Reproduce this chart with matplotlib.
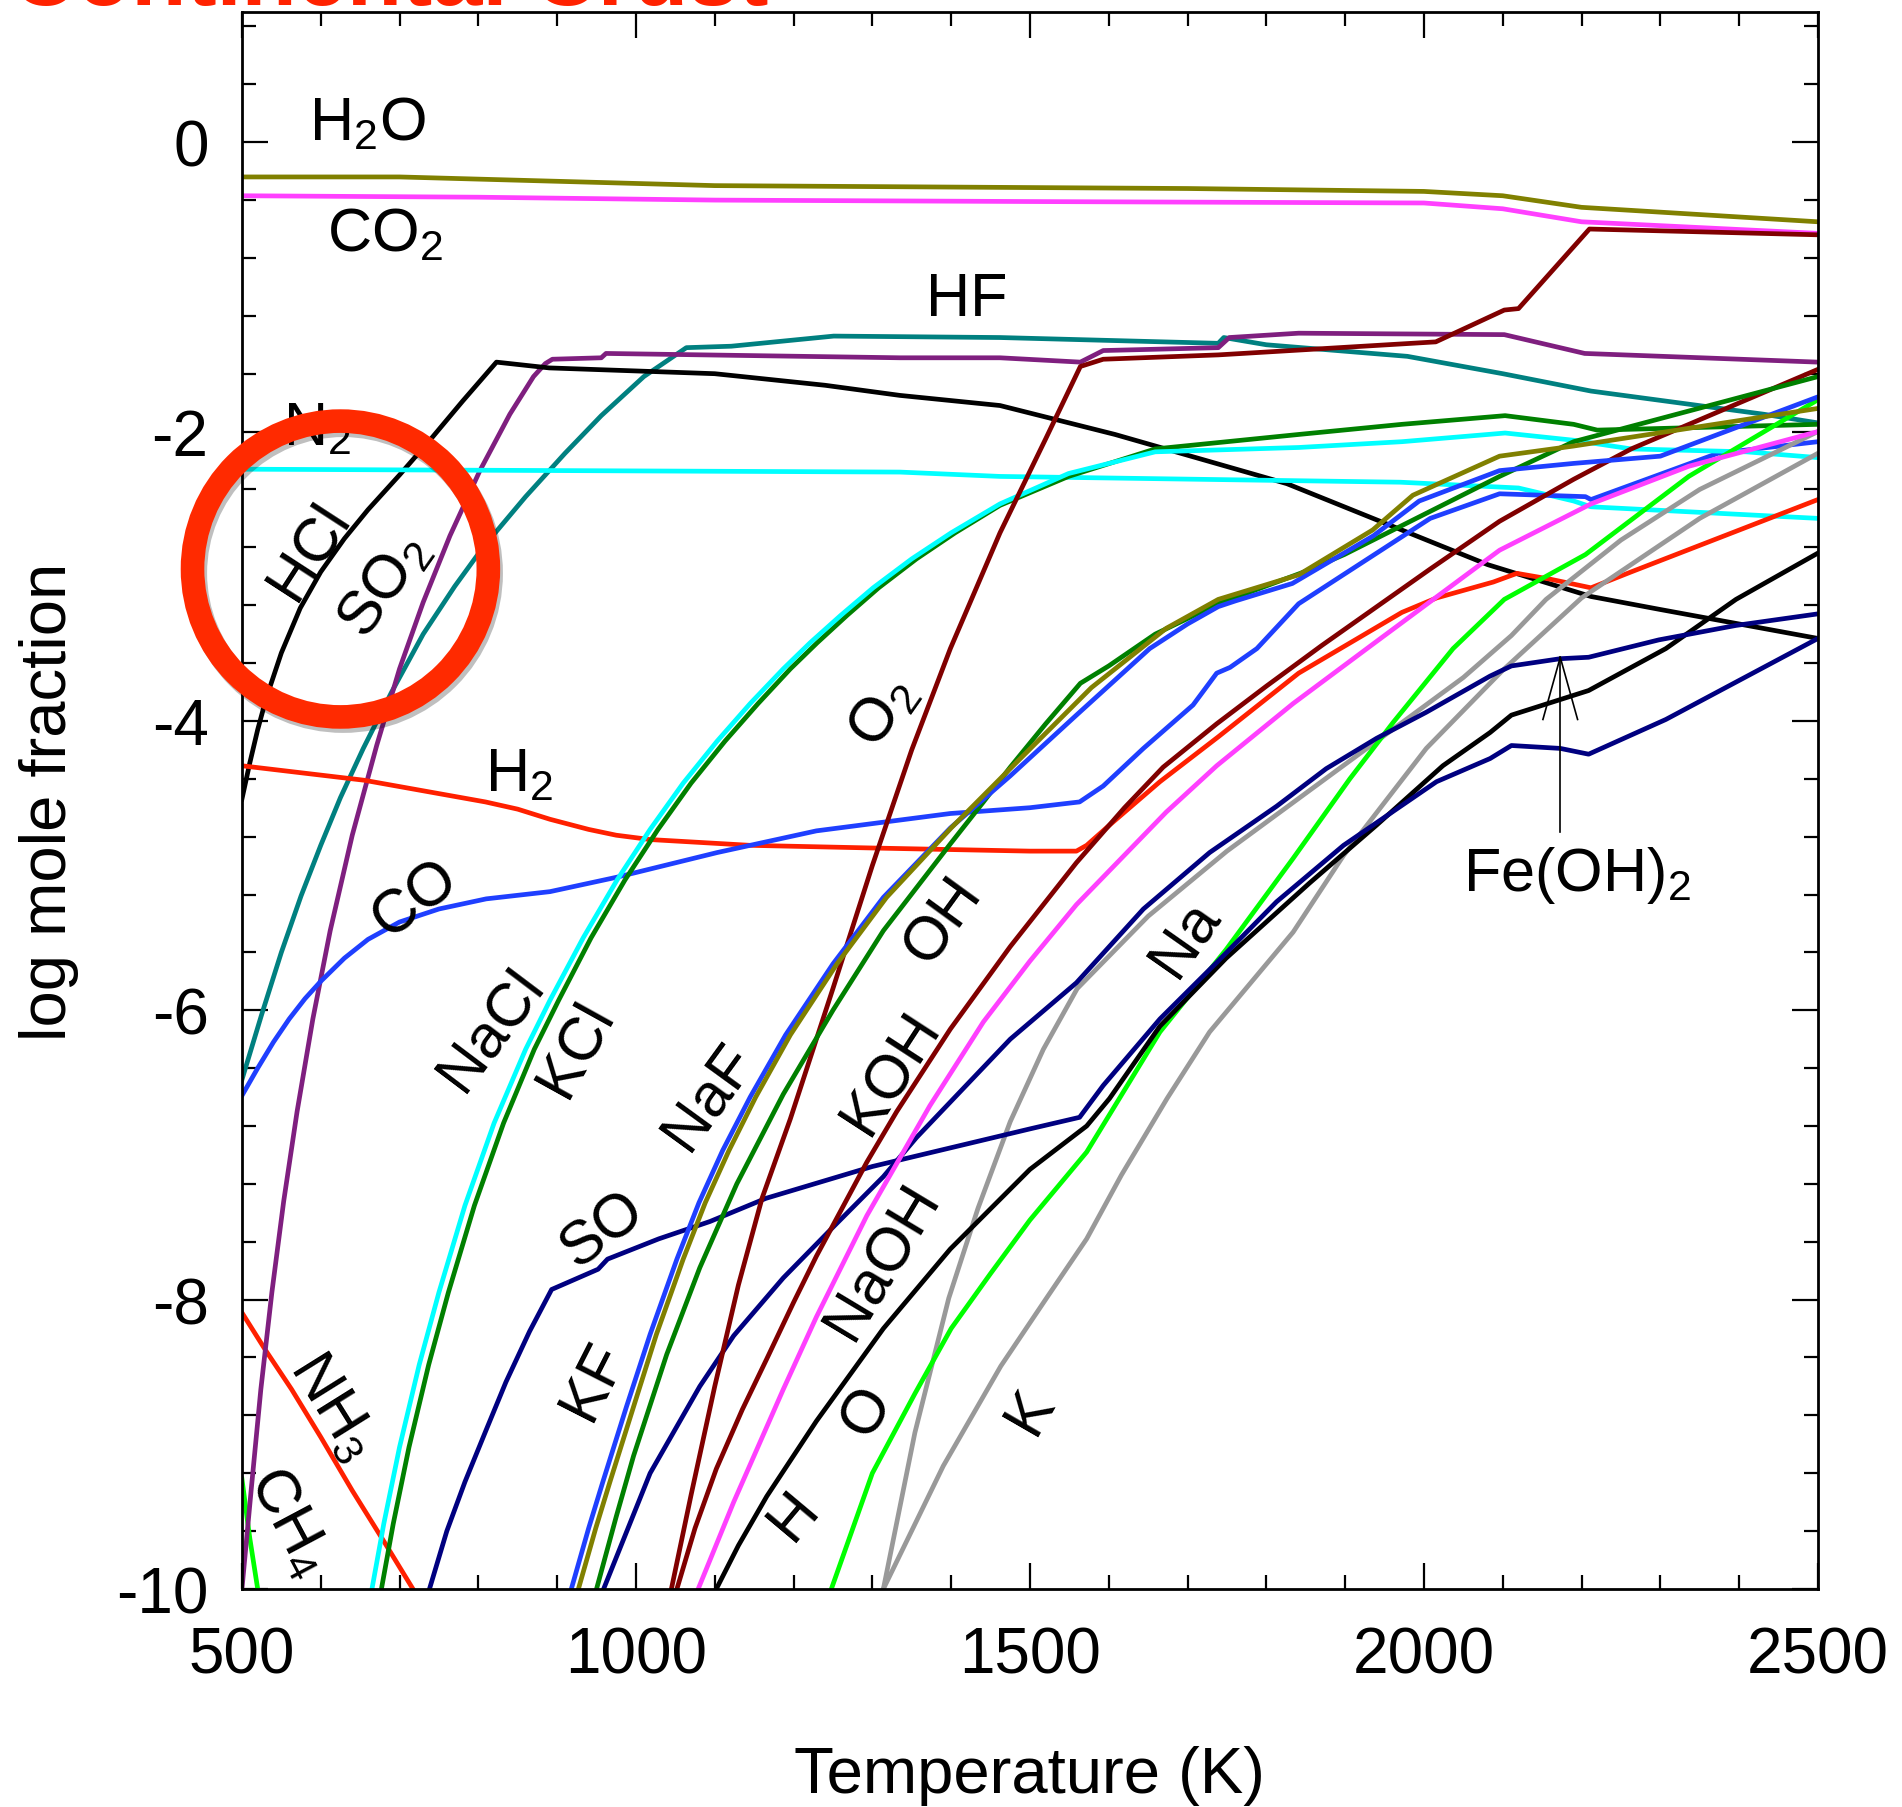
import matplotlib.pyplot as plt
import matplotlib.patheffects as pe
from matplotlib.ticker import MultipleLocator

plt.rcParams['font.family'] = ['Liberation Sans', 'DejaVu Sans']
plt.rcParams['mathtext.fontset'] = 'custom'
plt.rcParams['mathtext.rm'] = 'Liberation Sans'
plt.rcParams['mathtext.default'] = 'regular'
plt.rcParams['axes.unicode_minus'] = False

# log mole fraction vs temperature (K) for each gas species
h2o_t = [500, 700, 900, 1100, 1400, 1700, 2000, 2100, 2200, 2500]
h2o_x = [-0.24, -0.24, -0.27, -0.30, -0.31, -0.32, -0.34, -0.37, -0.45, -0.55]

co2_t = [500, 800, 1100, 1500, 2000, 2100, 2200, 2500]
co2_x = [-0.37, -0.38, -0.40, -0.41, -0.42, -0.46, -0.55, -0.63]

hf_t = [500, 525, 550, 575, 600, 625, 654, 690, 730, 770, 806, 860, 910, 956, 1010, 1064,
        1121, 1251, 1462, 1739, 1746, 1800, 1979, 2100, 2212, 2431, 2500]
hf_x = [-6.48, -6.03, -5.60, -5.21, -4.86, -4.53, -4.19, -3.80, -3.40, -3.07, -2.80, -2.45,
        -2.15, -1.89, -1.62, -1.42, -1.41, -1.34, -1.35, -1.39, -1.35, -1.40, -1.48, -1.60,
        -1.72, -1.88, -1.94]

so2_t = [500, 512, 524, 538, 553, 570, 590, 612, 640, 671, 700, 730, 764, 802, 840, 870,
         885, 894, 956, 962, 1335, 1462, 1564, 1593, 1739, 1753, 1841, 2102, 2204, 2500]
so2_x = [-10.0, -9.30, -8.62, -7.95, -7.32, -6.70, -6.06, -5.45, -4.79, -4.17, -3.64, -3.18,
         -2.72, -2.27, -1.88, -1.62, -1.53, -1.50, -1.49, -1.46, -1.49, -1.49, -1.52, -1.44,
         -1.42, -1.35, -1.32, -1.33, -1.46, -1.52]

hcl_t = [500, 510, 520, 531, 550, 574, 600, 630, 660, 700, 740, 780, 823, 890, 1100, 1240,
         1335, 1462, 1608, 1826, 2081, 2212, 2300, 2500]
hcl_x = [-4.54, -4.29, -4.06, -3.84, -3.53, -3.22, -2.97, -2.74, -2.54, -2.30, -2.05, -1.79,
         -1.52, -1.56, -1.60, -1.68, -1.75, -1.82, -2.02, -2.36, -2.92, -3.14, -3.23, -3.43]

n2_t = [500, 1335, 1462, 1970, 2120, 2190, 2212, 2500]
n2_x = [-2.26, -2.28, -2.31, -2.35, -2.39, -2.48, -2.52, -2.60]

h2_t = [500, 655, 809, 850, 891, 940, 975, 1018, 1145, 1314, 1500, 1559, 1572, 1601, 1665,
        1739, 1841, 1972, 2016, 2088, 2118, 2160, 2212, 2263, 2500]
h2_x = [-4.31, -4.41, -4.56, -4.61, -4.68, -4.75, -4.79, -4.82, -4.86, -4.88, -4.90, -4.90,
        -4.86, -4.72, -4.42, -4.11, -3.67, -3.25, -3.15, -3.04, -2.98, -3.02, -3.08, -2.97,
        -2.47]

co_t = [500, 520, 540, 560, 580, 600, 630, 660, 700, 750, 810, 891, 976, 1103, 1229, 1399,
        1500, 1563, 1593, 1644, 1707, 1737, 1754, 1788, 1841, 2008, 2096, 2205, 2212, 2373,
        2500]
co_x = [-6.59, -6.40, -6.22, -6.06, -5.92, -5.80, -5.64, -5.51, -5.39, -5.30, -5.23, -5.18,
        -5.08, -4.91, -4.76, -4.64, -4.60, -4.56, -4.45, -4.19, -3.89, -3.67, -3.63, -3.50,
        -3.19, -2.60, -2.43, -2.45, -2.47, -2.15, -2.07]

kcl_t = [665, 680, 700, 725, 750, 783, 820, 860, 891, 933, 976, 1018, 1060, 1103, 1145, 1187,
         1221, 1260, 1301, 1350, 1400, 1462, 1549, 1659, 1841, 1972, 2103, 2190, 2263, 2409,
         2500]
kcl_x = [-10.0, -9.55, -9.02, -8.45, -7.95, -7.35, -6.78, -6.27, -5.93, -5.50, -5.10, -4.75,
         -4.43, -4.14, -3.88, -3.64, -3.46, -3.27, -3.08, -2.88, -2.70, -2.50, -2.29, -2.14,
         -2.11, -2.07, -2.01, -2.06, -2.12, -2.14, -2.18]

nacl_t = [677, 692, 712, 737, 762, 795, 832, 871, 902, 943, 986, 1028, 1070, 1113, 1155, 1196,
          1230, 1268, 1308, 1356, 1405, 1462, 1549, 1659, 1841, 1972, 2103, 2190, 2220, 2500]
nacl_x = [-10.0, -9.55, -9.02, -8.45, -7.95, -7.35, -6.78, -6.27, -5.93, -5.50, -5.10, -4.75,
          -4.43, -4.14, -3.88, -3.64, -3.46, -3.27, -3.08, -2.88, -2.70, -2.51, -2.31, -2.12,
          -2.02, -1.95, -1.89, -1.95, -1.99, -1.95]

naf_t = [918, 940, 958, 988, 1018, 1052, 1080, 1110, 1145, 1190, 1250, 1314, 1399, 1475, 1559,
         1652, 1700, 1739, 1761, 1833, 1936, 1994, 2096, 2190, 2300, 2373, 2500]
naf_x = [-10.0, -9.58, -9.26, -8.74, -8.24, -7.72, -7.33, -6.97, -6.60, -6.17, -5.68, -5.22,
         -4.74, -4.38, -3.96, -3.50, -3.33, -3.21, -3.17, -3.05, -2.72, -2.48, -2.27, -2.22,
         -2.17, -2.02, -1.76]

kf_t = [927, 949, 967, 997, 1026, 1060, 1088, 1118, 1152, 1196, 1255, 1318, 1400, 1475, 1578,
        1673, 1739, 1841, 1935, 1986, 2096, 2190, 2500]
kf_x = [-10.0, -9.58, -9.26, -8.74, -8.24, -7.72, -7.33, -6.97, -6.60, -6.17, -5.68, -5.22,
        -4.74, -4.33, -3.77, -3.36, -3.16, -2.99, -2.68, -2.44, -2.17, -2.10, -1.84]

oh_t = [950, 975, 997, 1039, 1081, 1128, 1187, 1250, 1314, 1399, 1441, 1475, 1520, 1564,
        1600, 1659, 1739, 1848, 1899, 1972, 2096, 2190, 2500]
oh_x = [-10.0, -9.50, -9.08, -8.38, -7.78, -7.20, -6.58, -6.00, -5.45, -4.85, -4.56, -4.32,
        -4.02, -3.74, -3.62, -3.40, -3.19, -2.97, -2.85, -2.65, -2.31, -2.07, -1.62]

o2_t = [1045, 1070, 1100, 1130, 1160, 1196, 1250, 1300, 1350, 1399, 1462, 1520, 1564, 1593,
        1739, 2015, 2102, 2120, 2210, 2500]
o2_x = [-10.0, -9.35, -8.60, -7.90, -7.30, -6.75, -5.85, -5.00, -4.20, -3.50, -2.70, -2.05,
        -1.55, -1.50, -1.47, -1.38, -1.16, -1.15, -0.60, -0.64]

koh_t = [1052, 1075, 1102, 1135, 1166, 1200, 1229, 1293, 1331, 1399, 1475, 1559, 1620, 1669,
         1737, 1800, 1870, 2008, 2096, 2190, 2263, 2500]
koh_x = [-10.0, -9.58, -9.17, -8.76, -8.41, -8.02, -7.70, -7.05, -6.70, -6.13, -5.56, -4.98,
         -4.60, -4.32, -4.02, -3.76, -3.48, -2.95, -2.62, -2.33, -2.12, -1.57]

naoh_t = [1079, 1124, 1187, 1229, 1293, 1373, 1441, 1500, 1559, 1673, 1737, 1834, 1940, 2096,
          2212, 2336, 2500]
naoh_x = [-10.0, -9.40, -8.62, -8.12, -7.42, -6.66, -6.08, -5.66, -5.27, -4.63, -4.31, -3.88,
          -3.45, -2.82, -2.50, -2.24, -2.00]

h_t = [1102, 1130, 1166, 1229, 1314, 1399, 1500, 1572, 1601, 1665, 1749, 1855, 1940, 2024,
       2084, 2111, 2209, 2307, 2396, 2500]
h_x = [-10.0, -9.70, -9.36, -8.84, -8.20, -7.65, -7.10, -6.80, -6.61, -6.11, -5.64, -5.12,
       -4.72, -4.31, -4.08, -3.96, -3.79, -3.50, -3.16, -2.84]

so_t = [738, 760, 783, 810, 835, 865, 893, 952, 964, 1029, 1094, 1165, 1300, 1400, 1500,
        1563, 1593, 1665, 1737, 1813, 1898, 2016, 2084, 2111, 2173, 2209, 2307, 2500]
so_x = [-10.0, -9.60, -9.26, -8.90, -8.57, -8.22, -7.93, -7.79, -7.72, -7.58, -7.46, -7.30,
        -7.08, -6.95, -6.82, -6.74, -6.52, -6.06, -5.67, -5.25, -4.86, -4.42, -4.26, -4.17,
        -4.19, -4.23, -3.99, -3.43]

feoh2_t = [959, 1018, 1081, 1124, 1187, 1250, 1314, 1356, 1475, 1559, 1644, 1728, 1813,
           1876, 1940, 2003, 2084, 2111, 2173, 2209, 2298, 2396, 2500]
feoh2_x = [-10.0, -9.20, -8.60, -8.25, -7.85, -7.50, -7.15, -6.88, -6.20, -5.81, -5.30,
           -4.91, -4.59, -4.33, -4.12, -3.94, -3.69, -3.62, -3.57, -3.56, -3.44, -3.34, -3.26]

na_t = [1248, 1300, 1354, 1400, 1450, 1500, 1572, 1609, 1665, 1749, 1834, 1906, 1961, 2037,
        2102, 2205, 2336, 2500]
na_x = [-10.0, -9.20, -8.65, -8.20, -7.82, -7.45, -6.98, -6.65, -6.15, -5.58, -4.95, -4.40,
        -4.01, -3.50, -3.16, -2.85, -2.31, -1.78]

o_t = [1314, 1354, 1397, 1434, 1475, 1517, 1560, 1650, 1750, 1850, 1950, 2050, 2111, 2155,
       2250, 2350, 2500]
o_x = [-10.0, -8.92, -7.99, -7.37, -6.77, -6.27, -5.85, -5.35, -4.90, -4.50, -4.10, -3.70,
       -3.41, -3.16, -2.75, -2.40, -2.00]

k_t = [1314, 1390, 1463, 1521, 1572, 1616, 1674, 1728, 1834, 1898, 2003, 2100, 2200, 2350,
       2500]
k_x = [-10.0, -9.15, -8.46, -7.99, -7.58, -7.14, -6.61, -6.15, -5.46, -4.93, -4.19, -3.65,
       -3.15, -2.60, -2.15]

nh3_t = [500, 530, 563, 600, 640, 680, 717]
nh3_x = [-8.09, -8.35, -8.62, -8.95, -9.32, -9.67, -10.0]

ch4_t = [500, 510, 520]
ch4_x = [-9.24, -9.65, -10.0]

# arrow pointing at the Fe(OH)2 curve
feoh2_arrow_t = 2173
feoh2_arrow_tip = -3.56

OLIVE = '#808000'
MAGENTA = '#ff40ff'
TEAL = '#008080'
PURPLE = '#7f1f7f'
CYAN = '#00ffff'
RED = '#ff2000'
BLUE = '#1f3fff'
GREEN = '#008000'
BROWN = '#800000'
NAVY = '#000080'
LIME = '#00ff00'
GRAY = '#999999'

curves = [
    (h2o_t, h2o_x, OLIVE), (co2_t, co2_x, MAGENTA),
    (nh3_t, nh3_x, RED), (ch4_t, ch4_x, LIME),
    (hf_t, hf_x, TEAL), (so2_t, so2_x, PURPLE), (hcl_t, hcl_x, 'black'),
    (n2_t, n2_x, CYAN), (h2_t, h2_x, RED), (co_t, co_x, BLUE),
    (nacl_t, nacl_x, GREEN), (kcl_t, kcl_x, CYAN),
    (k_t, k_x, GRAY), (o_t, o_x, GRAY), (na_t, na_x, LIME),
    (h_t, h_x, 'black'), (so_t, so_x, NAVY), (feoh2_t, feoh2_x, NAVY),
    (naoh_t, naoh_x, MAGENTA), (koh_t, koh_x, BROWN), (o2_t, o2_x, BROWN),
    (oh_t, oh_x, GREEN), (naf_t, naf_x, BLUE), (kf_t, kf_x, OLIVE),
]

fig = plt.figure(figsize=(19.02, 18.08), dpi=100)
ax = fig.add_axes([0.1272, 0.1206, 0.8286, 0.8722])

for t, x, c in curves:
    ax.plot(t, x, color=c, lw=3.4)

ax.set_xlim(500, 2500)
ax.set_ylim(-10, 0.9)
ax.xaxis.set_major_locator(MultipleLocator(500))
ax.xaxis.set_minor_locator(MultipleLocator(100))
ax.yaxis.set_major_locator(MultipleLocator(2))
ax.yaxis.set_minor_locator(MultipleLocator(0.4))
ax.tick_params(which='both', direction='in', top=True, right=True, width=1.6)
ax.tick_params(which='major', length=19)
ax.tick_params(which='minor', length=10)
ax.tick_params(axis='x', labelsize=46, pad=26)
ax.tick_params(axis='y', labelsize=46, pad=24)
for s in ax.spines.values():
    s.set_linewidth(2.0)

ax.set_xlabel('Temperature (K)', fontsize=47, labelpad=43)
ax.set_ylabel('log mole fraction', fontsize=47, labelpad=27)

fs = 44
labels = [
    (r'H$_2$O', 659, 0.13, 0), (r'CO$_2$', 682, -0.64, 0), ('HF', 1420, -1.09, 0),
    (r'N$_2$', 596, -1.98, 0), ('HCl', 585, -2.82, 57), (r'SO$_2$', 682, -3.06, 55),
    (r'H$_2$', 852, -4.37, 0), ('CO', 721, -5.23, 37), ('NaCl', 816, -6.13, 53),
    ('KCl', 924, -6.26, 61), ('NaF', 1093, -6.59, 54), (r'O$_2$', 1314, -3.94, 55),
    ('OH', 1390, -5.38, 54), ('KOH', 1324, -6.43, 57), ('SO', 958, -7.52, 37),
    ('KF', 947, -8.56, 63), ('NaOH', 1314, -7.73, 59), (r'NH$_3$', 616, -8.73, -58),
    (r'CH$_4$', 559, -9.53, -62), ('H', 1201, -9.49, 50), ('O', 1293, -8.77, 60),
    ('K', 1501, -8.77, 60), ('Na', 1697, -5.50, 55), (r'Fe(OH)$_2$', 2194, -5.06, 0),
]
for txt, t, x, rot in labels:
    ax.text(t, x, txt, fontsize=fs, rotation=rot, ha='center', va='center',
            rotation_mode='anchor')

# open arrow from the Fe(OH)2 label up to its curve
ax.plot([feoh2_arrow_t, feoh2_arrow_t], [-4.77, feoh2_arrow_tip], color='black', lw=1.2)
ax.plot([feoh2_arrow_t - 22, feoh2_arrow_t, feoh2_arrow_t + 22], [-3.99, feoh2_arrow_tip, -3.99],
        color='black', lw=1.2)

# red ring highlighting HCl / SO2
ax.plot([625], [-2.95], marker='o', ms=213, mfc='none', mec='#ff2a00', mew=17,
        clip_on=False, zorder=10,
        path_effects=[pe.SimpleLineShadow(offset=(2, -3), shadow_color='black', alpha=0.25),
                      pe.Normal()])

fig.text(0.006, 0.9972, 'Continental Crust', color='#ff2200', fontsize=65,
         fontweight='bold', ha='left', va='baseline')

fig.savefig('out.png', dpi=100)
